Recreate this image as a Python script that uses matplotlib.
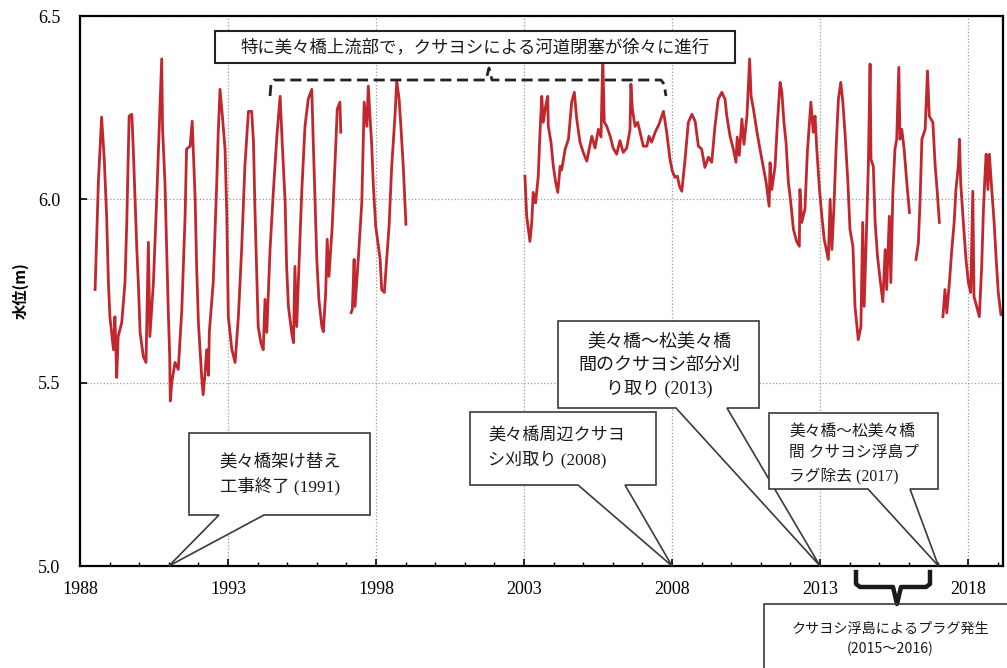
import numpy as np
import matplotlib.pyplot as plt
from matplotlib.patches import Polygon
from matplotlib.lines import Line2D

plt.rcParams['font.family'] = ['Liberation Serif', 'Noto Sans CJK JP']

nan = np.nan

# water level, 1988 - 1999
years_a = [1988.51, 1988.62, 1988.68, 1988.73, 1988.82, 1988.90, 1988.96, 1989.01, 1989.13, 1989.18,
           1989.24, 1989.29, 1989.41, 1989.52, 1989.58, 1989.66, 1989.75, 1989.80, 1989.92, 1989.97,
           1990.03, 1990.14, 1990.23, 1990.31, 1990.36, 1990.48, 1990.59, 1990.67, 1990.76, 1990.79,
           1990.87, 1990.93, 1990.98, 1991.03, 1991.05, 1991.10, 1991.21, 1991.32, 1991.44, 1991.55,
           1991.60, 1991.72, 1991.79, 1991.89, 1991.94, 1992.00, 1992.11, 1992.16, 1992.22, 1992.28,
           1992.34, 1992.37, 1992.50, 1992.62, 1992.67, 1992.73, 1992.81, 1992.90, 1992.96, 1993.01,
           1993.13, 1993.24, 1993.35, 1993.46, 1993.57, 1993.69, 1993.80, 1993.86, 1993.91, 1993.97,
           1994.02, 1994.11, 1994.19, 1994.25, 1994.31, 1994.42, 1994.53, 1994.65, 1994.76, 1994.83,
           1994.93, 1994.98, 1995.04, 1995.15, 1995.21, 1995.26, 1995.32, 1995.40, 1995.49, 1995.60,
           1995.71, 1995.83, 1995.88, 1995.94, 1996.00, 1996.07, 1996.17, 1996.22, 1996.30, 1996.35,
           1996.41, 1996.52, 1996.62, 1996.69, 1996.78, 1996.81, nan,
           1997.16, 1997.20, 1997.26, 1997.29, 1997.40, 1997.52, 1997.60, 1997.69, 1997.74, 1997.80,
           1997.85, 1997.91, 1997.99, 1998.08, 1998.14, 1998.19, 1998.28, 1998.36, 1998.44, 1998.53,
           1998.64, 1998.70, 1998.78, 1998.84, 1998.92, 1999.01]
level_a = [5.754, 6.046, 6.142, 6.224, 6.109, 5.954, 5.773, 5.680, 5.590, 5.680,
           5.514, 5.626, 5.664, 5.773, 5.937, 6.227, 6.232, 6.137, 5.863, 5.773,
           5.637, 5.571, 5.555, 5.883, 5.626, 5.773, 6.000, 6.183, 6.383, 6.191,
           6.046, 5.863, 5.700, 5.571, 5.450, 5.500, 5.555, 5.536, 5.700, 5.954,
           6.137, 6.145, 6.213, 6.000, 5.817, 5.664, 5.516, 5.467, 5.522, 5.590,
           5.520, 5.640, 5.773, 6.046, 6.183, 6.300, 6.227, 6.137, 5.954, 5.680,
           5.590, 5.555, 5.680, 5.863, 6.090, 6.240, 6.240, 6.156, 5.973, 5.800,
           5.653, 5.609, 5.590, 5.727, 5.637, 5.863, 6.019, 6.172, 6.281, 6.156,
           5.992, 5.817, 5.708, 5.637, 5.609, 5.817, 5.653, 5.828, 6.019, 6.199,
           6.273, 6.300, 6.156, 6.000, 5.836, 5.727, 5.653, 5.639, 5.746, 5.891,
           5.790, 5.926, 6.109, 6.246, 6.265, 6.183, nan,
           5.691, 5.700, 5.836, 5.708, 5.836, 5.992, 6.265, 6.199, 6.309, 6.219,
           6.156, 6.036, 5.926, 5.872, 5.836, 5.754, 5.746, 5.836, 5.926, 6.090,
           6.227, 6.322, 6.273, 6.199, 6.090, 5.932]

# water level, 2003 - 2019
years_b = [2003.03, 2003.09, 2003.20, 2003.26, 2003.31, 2003.39, 2003.48, 2003.54, 2003.60, 2003.65,
           2003.73, 2003.80, 2003.82, 2003.91, 2003.99, 2004.07, 2004.14, 2004.22, 2004.27, 2004.39,
           2004.50, 2004.61, 2004.70, 2004.78, 2004.89, 2005.00, 2005.12, 2005.20, 2005.29, 2005.40,
           2005.51, 2005.60, 2005.66, 2005.71, 2005.79, 2005.91, 2006.01, 2006.13, 2006.24, 2006.35,
           2006.47, 2006.58, 2006.61, 2006.66, 2006.75, 2006.84, 2006.92, 2007.03, 2007.15, 2007.22,
           2007.31, 2007.43, 2007.56, 2007.71, 2007.82, 2007.93, 2008.01, 2008.10, 2008.18, 2008.25,
           2008.33, 2008.44, 2008.55, 2008.67, 2008.78, 2008.89, 2009.00, 2009.11, 2009.23, 2009.34,
           2009.45, 2009.56, 2009.68, 2009.79, 2009.85, 2009.96, 2010.07, 2010.16, 2010.20, 2010.27,
           2010.36, 2010.43, 2010.53, 2010.62, 2010.67, 2010.75, 2010.87, 2010.97, 2011.08, 2011.18,
           2011.28, 2011.31, 2011.37, 2011.48, 2011.56, 2011.65, 2011.71, 2011.78, 2011.85, 2011.93,
           2012.01, 2012.10, 2012.21, 2012.30, 2012.32, 2012.38, 2012.49, 2012.57, 2012.69, 2012.77,
           2012.83, 2012.89, 2012.98, 2013.06, 2013.14, 2013.23, 2013.28, 2013.34, 2013.40, 2013.47,
           2013.54, 2013.62, 2013.70, 2013.77, 2013.85, 2013.94, 2014.01, 2014.11, 2014.18, 2014.29,
           2014.38, 2014.44, 2014.49, 2014.55, 2014.63, 2014.69, 2014.72, 2014.80, 2014.86, 2014.94,
           2015.03, 2015.12, 2015.20, 2015.25, 2015.34, 2015.39, 2015.46, 2015.53, 2015.59, 2015.66,
           2015.70, 2015.76, 2015.84, 2015.93, 2016.02, nan, 2016.24, 2016.32, 2016.38, 2016.44,
           2016.55, 2016.63, 2016.69, 2016.81, 2016.89, 2016.96, 2017.03, nan, 2017.15, 2017.22,
           2017.28, 2017.37, 2017.45, 2017.53, 2017.59, 2017.67, 2017.71, 2017.75, 2017.84, 2017.93,
           2018.01, 2018.09, 2018.16, 2018.20, 2018.29, 2018.38, 2018.46, 2018.52, 2018.57, 2018.61,
           2018.67, 2018.72, 2018.80, 2018.88, 2018.95, 2019.02, 2019.11]
level_b = [6.063, 5.954, 5.885, 5.937, 6.019, 5.990, 6.063, 6.183, 6.281, 6.210,
           6.254, 6.281, 6.199, 6.156, 6.090, 6.046, 6.019, 6.090, 6.080, 6.137,
           6.164, 6.265, 6.292, 6.219, 6.156, 6.128, 6.104, 6.137, 6.172, 6.140,
           6.191, 6.170, 6.390, 6.210, 6.200, 6.172, 6.140, 6.123, 6.160, 6.128,
           6.140, 6.190, 6.314, 6.246, 6.199, 6.210, 6.183, 6.145, 6.145, 6.172,
           6.156, 6.183, 6.205, 6.240, 6.183, 6.109, 6.077, 6.060, 6.063, 6.036,
           6.022, 6.109, 6.210, 6.232, 6.213, 6.145, 6.137, 6.087, 6.115, 6.101,
           6.199, 6.273, 6.292, 6.273, 6.227, 6.172, 6.137, 6.101, 6.170, 6.120,
           6.219, 6.150, 6.227, 6.383, 6.281, 6.246, 6.183, 6.137, 6.090, 6.046,
           5.981, 6.100, 6.027, 6.090, 6.210, 6.319, 6.292, 6.210, 6.156, 6.046,
           5.992, 5.918, 5.885, 5.872, 6.027, 5.937, 5.973, 6.128, 6.265, 6.183,
           6.227, 6.137, 6.027, 5.954, 5.891, 5.855, 5.836, 6.000, 5.863, 5.981,
           6.137, 6.273, 6.319, 6.265, 6.172, 6.046, 5.918, 5.872, 5.708, 5.617,
           5.653, 5.937, 5.708, 5.863, 6.090, 6.369, 6.109, 6.090, 5.937, 5.845,
           5.781, 5.721, 5.863, 5.754, 5.954, 5.773, 6.019, 6.137, 6.164, 6.360,
           6.164, 6.191, 6.137, 6.046, 5.964, nan, 5.836, 5.880, 6.000, 6.164,
           6.191, 6.350, 6.227, 6.210, 6.090, 6.019, 5.937, nan, 5.680, 5.754,
           5.690, 5.773, 5.863, 5.937, 6.027, 6.090, 6.164, 6.046, 5.937, 5.836,
           5.773, 5.746, 6.022, 5.735, 5.708, 5.680, 5.817, 5.973, 6.063, 6.123,
           6.027, 6.123, 6.027, 5.937, 5.836, 5.746, 5.686]

year_ticks = [1988, 1993, 1998, 2003, 2008, 2013, 2018]
level_ticks = [5.0, 5.5, 6.0, 6.5]

W, H = 1007, 668
fig = plt.figure(figsize=(W / 100, H / 100), dpi=100)
ax = fig.add_axes([80 / W, 1 - 566 / H, 923 / W, 550 / H])

red = '#c1272d'
ax.plot(years_a, level_a, color=red, lw=2.0)
ax.plot(years_b, level_b, color=red, lw=2.0)

ax.set_xlim(1988, 2019.18)
ax.set_ylim(5.0, 6.5)
ax.set_xticks(year_ticks)
ax.set_xticks(range(1988, 2020), minor=True)
ax.set_yticks(level_ticks)
ax.set_yticklabels(['%.1f' % v for v in level_ticks])
ax.tick_params(direction='in', labelsize=13, length=5, width=1.2)
ax.tick_params(which='minor', direction='in', length=3, width=1.0)
ax.tick_params(axis='x', pad=11)
ax.tick_params(axis='y', pad=14)
ax.grid(True, which='major', linestyle=':', color='#9a9a9a', lw=0.9)
for s in ax.spines.values():
    s.set_linewidth(1.6)
ax.set_ylabel('水位(m)', fontsize=11, fontweight='bold', family=['Noto Sans CJK JP'], labelpad=7)


# helpers in picture pixels (origin top-left)
def to_fig(x, y):
    return x / W, 1 - y / H


def tip_px(year):
    dx, dy = ax.transData.transform((year, 5.0))
    return dx, H - dy


def callout(box, base, year, text, size, tx, ty, ha):
    x0, y0, x1, y1 = box
    tx0, ty0 = tip_px(year)
    pts = [(x0, y0), (x1, y0), (x1, y1), (base[1], y1), (tx0, ty0), (base[0], y1), (x0, y1)]
    poly = Polygon([to_fig(*p) for p in pts], closed=True, transform=fig.transFigure,
                   facecolor='white', edgecolor='#3a3a3a', lw=1.2)
    fig.add_artist(poly)
    fig.text(*to_fig(tx, ty), text, ha=ha, va='center', multialignment=ha,
             fontsize=size, linespacing=1.45, color='#1a1a1a')


callout((189, 433, 370, 515), (219, 264), 1991, '美々橋架け替え\n工事終了 (1991)', 12.5, 280, 475, 'center')
callout((470, 412, 656, 485), (578, 625), 2008, '美々橋周辺クサヨ\nシ刈取り (2008)', 12.3, 488, 448, 'left')
callout((558, 321, 759, 408), (676, 727), 2013, '美々橋～松美々橋\n間のクサヨシ部分刈\nり取り (2013)', 13, 659, 366, 'center')
callout((769, 413, 938, 489), (868, 910), 2017, '美々橋～松美々橋\n間 クサヨシ浮島プ\nラグ除去 (2017)', 11.3, 789, 454, 'left')

# top note box with dashed bracket
top = Polygon([to_fig(*p) for p in [(215, 31), (735, 31), (735, 63), (215, 63)]], closed=True,
              transform=fig.transFigure, facecolor='white', edgecolor='#222222', lw=1.5)
fig.add_artist(top)
fig.text(*to_fig(475, 47), '特に美々橋上流部で，クサヨシによる河道閉塞が徐々に進行', ha='center', va='center',
         fontsize=12.5, family=['Noto Sans CJK JP'], color='#1a1a1a')
bx = [270, 271, 274, 486, 489, 492, 661, 664, 666]
by = [96, 84, 80, 80, 68, 80, 80, 84, 96]
fig.add_artist(Line2D([to_fig(x, y)[0] for x, y in zip(bx, by)], [to_fig(x, y)[1] for x, y in zip(bx, by)],
                      transform=fig.transFigure, color='#222222', lw=2.0, linestyle=(0, (4, 2))))

# bottom brace and note box
cx = [856, 856, 860, 893, 897, 901, 926, 930, 930]
cy = [572, 584, 587, 587, 604, 587, 587, 584, 572]
fig.add_artist(Line2D([to_fig(x, y)[0] for x, y in zip(cx, cy)], [to_fig(x, y)[1] for x, y in zip(cx, cy)],
                      transform=fig.transFigure, color='#1a1a1a', lw=3.2, solid_joinstyle='round'))
fig.add_artist(Line2D([to_fig(764, 0)[0], to_fig(764, 0)[0], to_fig(1010, 0)[0]],
                      [to_fig(0, 672)[1], to_fig(0, 604)[1], to_fig(0, 604)[1]],
                      transform=fig.transFigure, color='#3a3a3a', lw=1.2))
fig.text(*to_fig(890, 639), 'クサヨシ浮島によるプラグ発生\n(2015～2016)', ha='center', va='center',
         fontsize=10.2, linespacing=1.55, family=['Noto Sans CJK JP'], color='#1a1a1a')

fig.savefig('out.png', dpi=100)
